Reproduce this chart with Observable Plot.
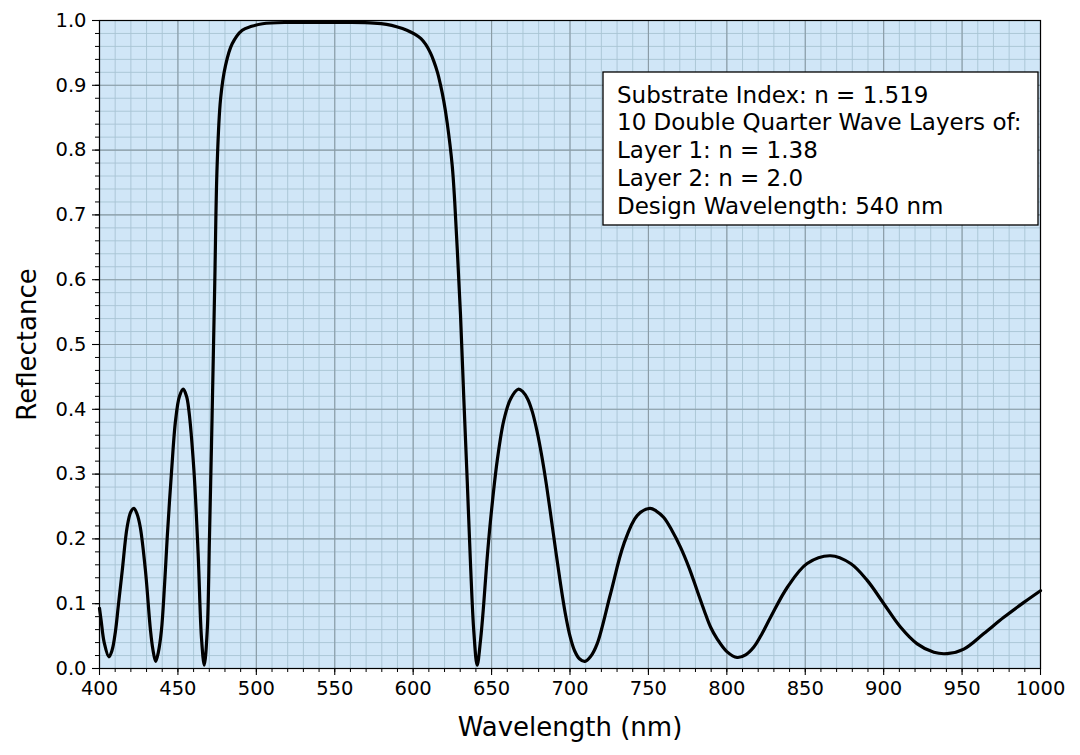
<!DOCTYPE html>
<html>
<head>
<meta charset="utf-8">
<script src="https://cdn.jsdelivr.net/npm/d3@7"></script>
<script src="https://cdn.jsdelivr.net/npm/@observablehq/plot@0.6"></script>
<style>
  html, body { margin: 0; padding: 0; background: #ffffff; }
  #chart { width: 1080px; height: 755px; }
</style>
</head>
<body>
<div id="chart"></div>
<script>
// Wavelength (nm) and reflectance values
const wavelength = [
  400, 401, 403, 406, 408, 410.2, 412, 414.5, 417.6, 420, 422, 424, 426, 429.3, 432.5, 434, 435.8, 437.5, 439.5,
  441.5, 443.2, 446, 448.5, 451, 453.4, 455.5, 457, 460.2, 462.9, 465, 466.8, 468.7, 470.1, 471.8, 473.5, 475, 477.2,
  480.3, 484.6, 491, 497, 504, 520, 540, 560, 575, 583, 590, 596, 601, 605, 608, 611, 613.2, 615.5, 617.4, 619.5, 621.7,
  624.9, 626.5, 628.1, 630.2, 632.3, 634.5, 636.6, 638.7, 640.8, 643, 645, 647, 649.3, 653.6, 657.8, 662.1, 667,
  670, 673, 676, 679, 682, 685, 688, 691, 694, 697, 700, 703, 706, 709.5, 713, 717.3, 725.8, 734.3, 742.8, 750.9, 755, 759.8,
  765, 770.5, 776, 781.1, 785.5, 789.6, 794, 800, 806.6, 812, 817.2, 822.5, 827.9, 838.5, 851.2, 866.1, 878.9, 889.5, 900.1, 910.7,
  921.4, 932, 940.5, 951.1, 963.9, 976.6, 989.4, 1000
];
const reflectance = [
  0.093, 0.075, 0.040, 0.018, 0.028, 0.058, 0.097, 0.151, 0.218, 0.242, 0.247, 0.238, 0.218, 0.151, 0.059, 0.030, 0.011, 0.025, 0.059,
  0.130, 0.203, 0.306, 0.383, 0.420, 0.431, 0.420, 0.398, 0.306, 0.177, 0.048, 0.005, 0.059, 0.200, 0.390, 0.596, 0.776, 0.879,
  0.930, 0.964, 0.985, 0.991, 0.995, 0.997, 0.997, 0.997, 0.996, 0.994, 0.990, 0.985, 0.979, 0.972, 0.963, 0.950, 0.937, 0.920, 0.901, 0.876, 0.842,
  0.776, 0.720, 0.648, 0.545, 0.416, 0.288, 0.159, 0.056, 0.005, 0.045, 0.100, 0.165, 0.228, 0.321, 0.383, 0.416, 0.431,
  0.427, 0.416, 0.396, 0.366, 0.328, 0.283, 0.232, 0.180, 0.130, 0.085, 0.050, 0.027, 0.015, 0.011, 0.018, 0.038, 0.115, 0.192, 0.236, 0.247, 0.243, 0.233,
  0.213, 0.187, 0.155, 0.120, 0.090, 0.064, 0.045, 0.026, 0.017, 0.021, 0.033, 0.054, 0.079, 0.125, 0.162, 0.174, 0.162, 0.136, 0.100, 0.064,
  0.038, 0.025, 0.023, 0.030, 0.054, 0.079, 0.102, 0.120
];

// Tick values
const xMajorTicks = [400, 450, 500, 550, 600, 650, 700, 750, 800, 850, 900, 950, 1000];
const xMinorTicks = d3.range(400, 1001, 10);
const yMajorTicks = [0, 0.1, 0.2, 0.3, 0.4, 0.5, 0.6, 0.7, 0.8, 0.9, 1.0];
const yMinorTicks = d3.range(0, 50.5, 1).map(d => d / 50);

// Text
const xLabel = "Wavelength (nm)";
const yLabel = "Reflectance";
const infoLines = [
  "Substrate Index: n = 1.519",
  "10 Double Quarter Wave Layers of:",
  "Layer 1: n = 1.38",
  "Layer 2: n = 2.0",
  "Design Wavelength: 540 nm"
];

const data = wavelength.map((w, i) => ({w, r: reflectance[i]}));

const FONT = "'DejaVu Sans', sans-serif";

function infoBox(index, scales, values, dims) {
  const g = d3.create("svg:g");
  const boxW = 435, boxH = 153;
  const x0 = dims.width - dims.marginRight - 2 - boxW;
  const y0 = dims.marginTop + 52;
  g.append("rect")
    .attr("x", x0).attr("y", y0)
    .attr("width", boxW).attr("height", boxH)
    .attr("fill", "white").attr("stroke", "black").attr("stroke-width", 1.3);
  const t = g.append("text")
    .attr("font-family", FONT).attr("font-size", 23).attr("fill", "black")
    .attr("text-anchor", "start");
  infoLines.forEach((line, i) => {
    t.append("tspan").attr("x", x0 + 14).attr("y", y0 + 30.5 + i * 27.8).text(line);
  });
  return g.node();
}

const chart = Plot.plot({
  width: 1080,
  height: 755,
  marginTop: 20,
  marginRight: 40,
  marginBottom: 87,
  marginLeft: 99,
  style: {fontFamily: FONT, color: "black", background: "white", overflow: "visible"},
  x: {domain: [400, 1000], label: null},
  y: {domain: [0, 1], label: null},
  marks: [
    Plot.frame({fill: "#d0e6f7", stroke: null}),
    Plot.gridX(xMinorTicks, {stroke: "#a8c4d4", strokeOpacity: 1, strokeWidth: 0.9}),
    Plot.gridY(yMinorTicks, {stroke: "#a8c4d4", strokeOpacity: 1, strokeWidth: 0.9}),
    Plot.gridX(xMajorTicks, {stroke: "#8a9ba5", strokeOpacity: 1, strokeWidth: 1.1}),
    Plot.gridY(yMajorTicks, {stroke: "#8a9ba5", strokeOpacity: 1, strokeWidth: 1.1}),
    Plot.line(data, {x: "w", y: "r", stroke: "black", strokeWidth: 3.2, curve: "catmull-rom"}),
    Plot.frame({stroke: "black", strokeWidth: 1.2}),
    Plot.axisX(xMinorTicks, {tickSize: 4, tickFormat: () => "", stroke: "black", strokeWidth: 1}),
    Plot.axisY(yMinorTicks, {tickSize: 4, tickFormat: () => "", stroke: "black", strokeWidth: 1}),
    Plot.axisX(xMajorTicks, {tickSize: 7, tickPadding: 6, fontSize: 19.5, tickFormat: d3.format("d"), stroke: "black", fill: "black", strokeWidth: 1.1}),
    Plot.axisY(yMajorTicks, {tickSize: 7, tickPadding: 6, fontSize: 19.5, tickFormat: d3.format(".1f"), stroke: "black", fill: "black", strokeWidth: 1.1}),
    Plot.text([xLabel], {frameAnchor: "bottom", dy: 59.5, text: d => d, fontSize: 26, fill: "black", lineAnchor: "middle", textAnchor: "middle"}),
    Plot.text([yLabel], {frameAnchor: "left", dx: -72, rotate: -90, text: d => d, fontSize: 26, fill: "black", lineAnchor: "middle", textAnchor: "middle"}),
    infoBox
  ]
});

document.getElementById("chart").appendChild(chart);
</script>
</body>
</html>
